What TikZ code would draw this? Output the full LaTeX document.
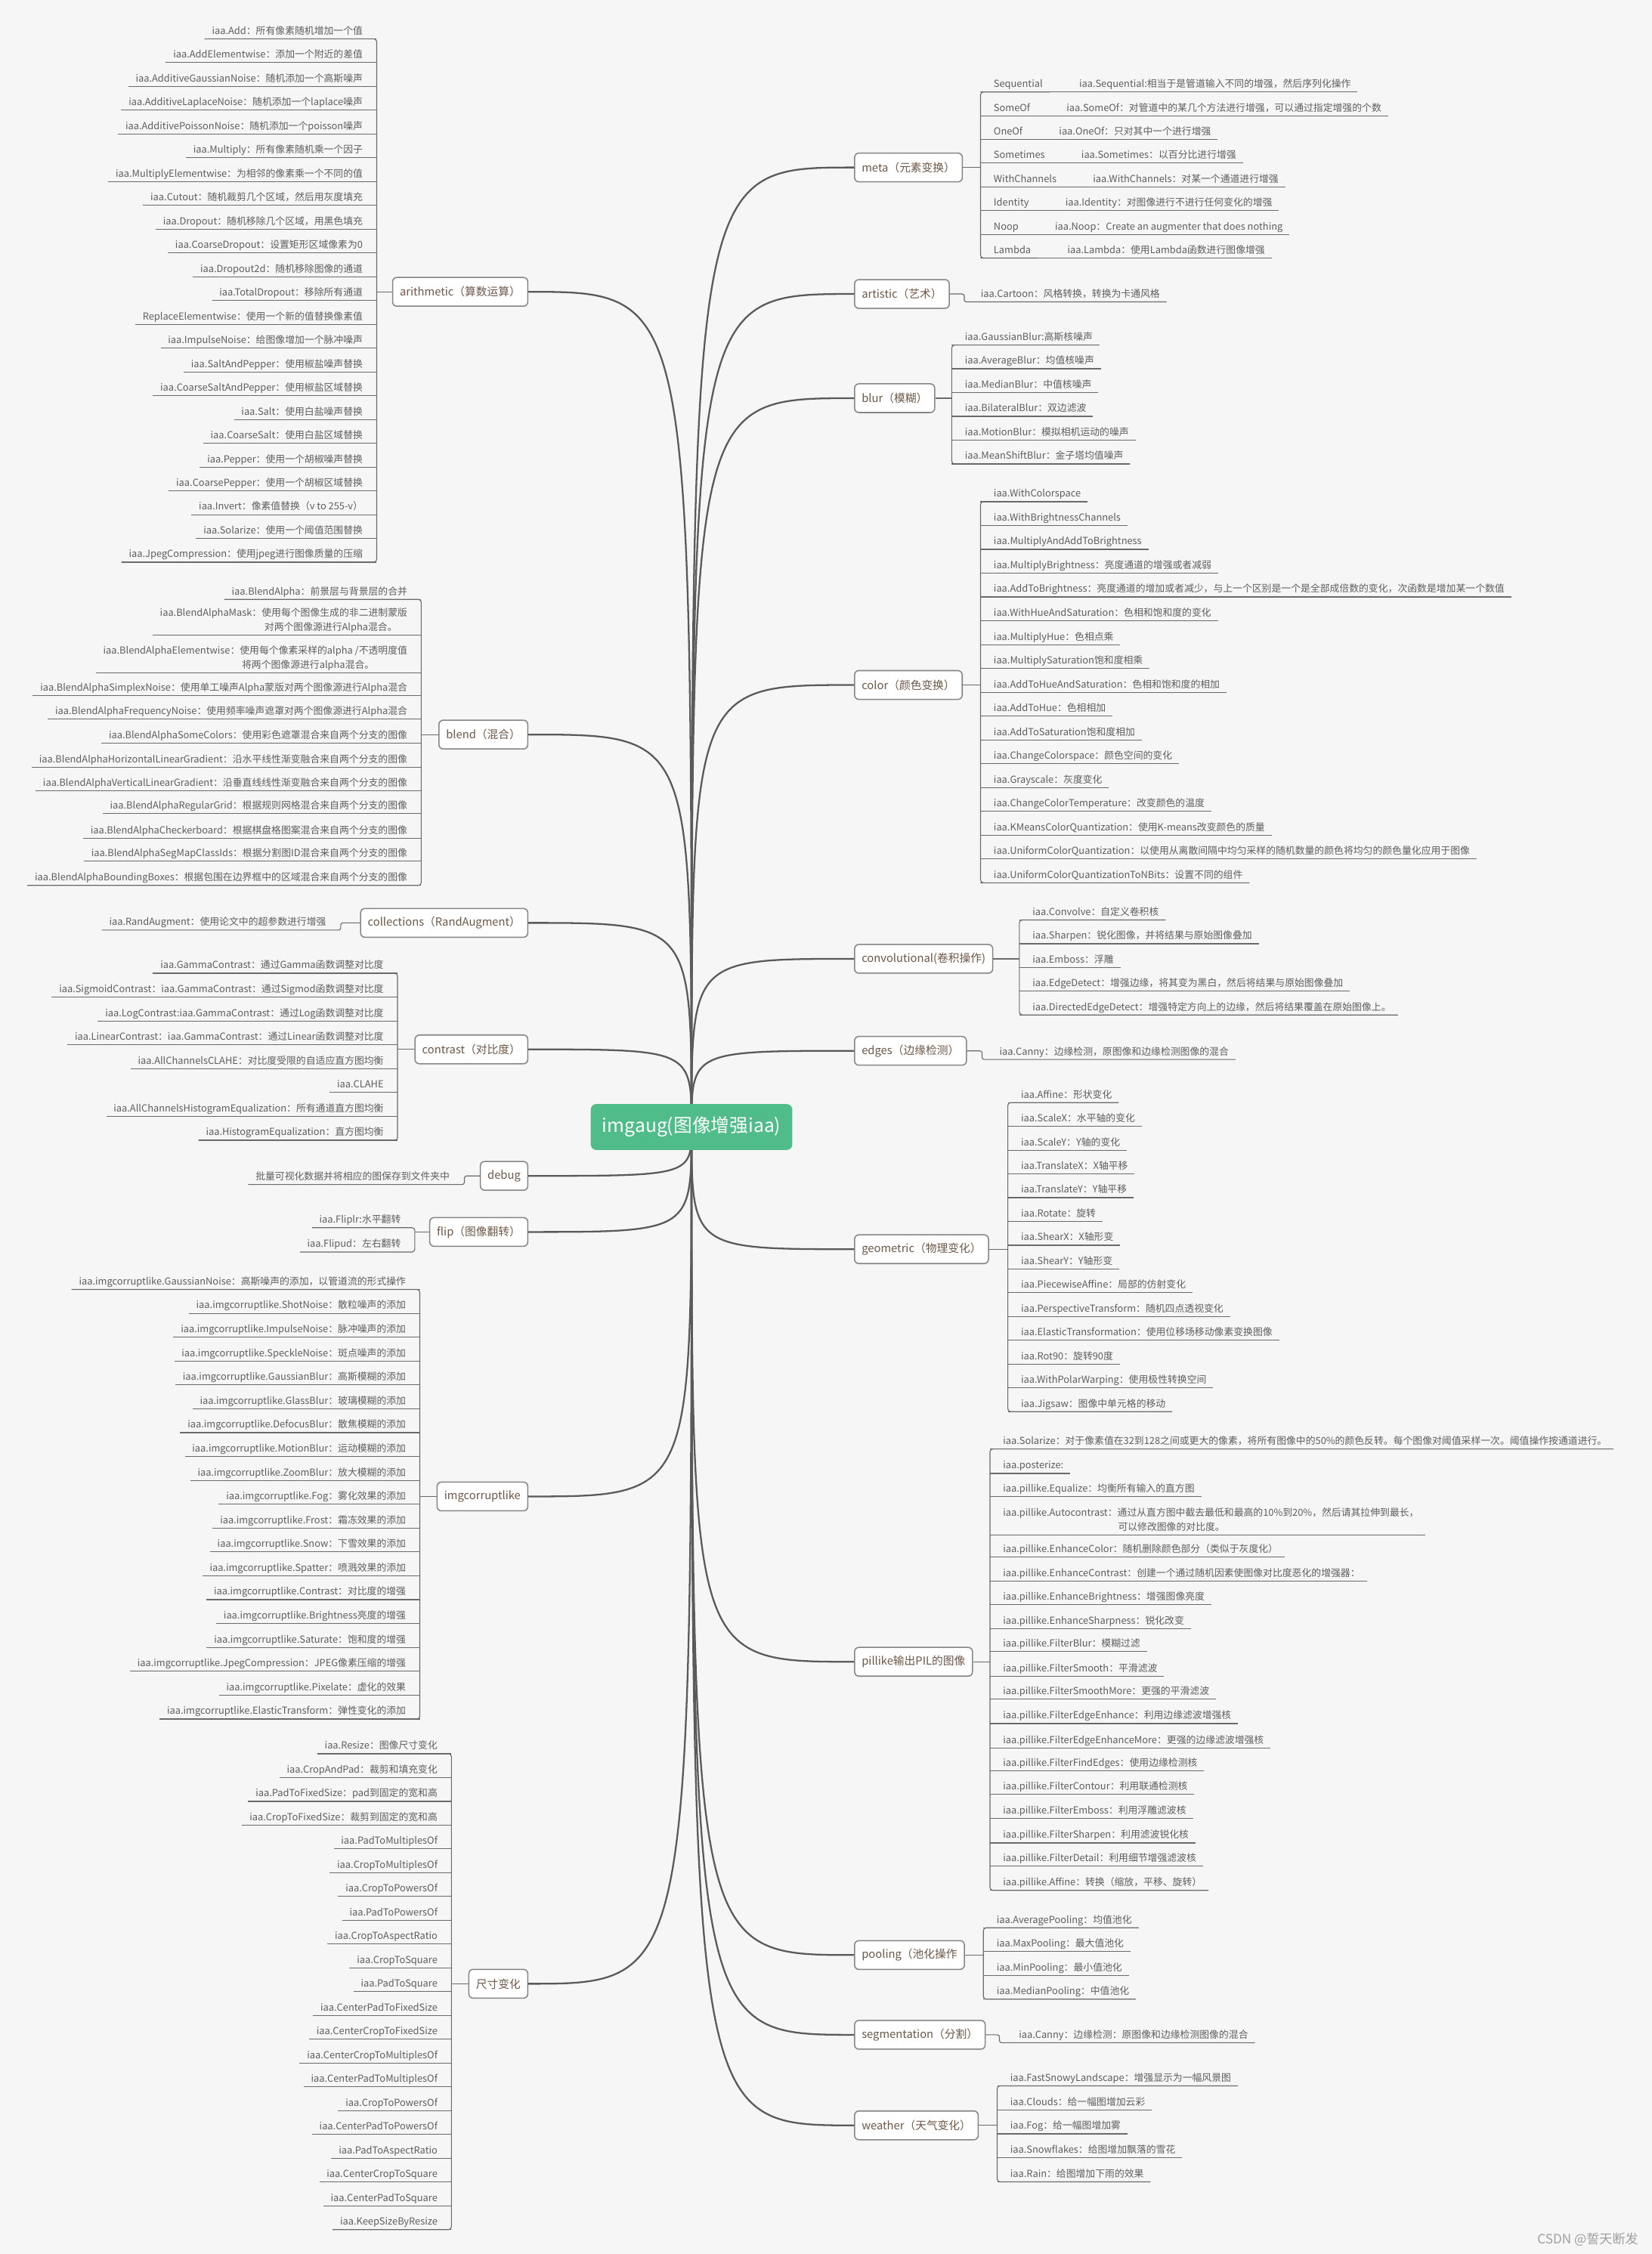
\documentclass[tikz,border=0pt]{standalone}
\usepackage{fontspec}
\setmainfont{Noto Sans CJK SC}
\usetikzlibrary{positioning}

\definecolor{paper}{HTML}{F6F6F6}
\definecolor{rootgreen}{HTML}{50BC8A}
\definecolor{twiggray}{HTML}{6A6A6A}
\definecolor{limbgray}{HTML}{5A5A5A}
\definecolor{leafgray}{HTML}{5E5E5E}
\definecolor{catbrown}{HTML}{6E5747}
\definecolor{boxgray}{HTML}{858585}

\tikzset{
  rootbox/.style={fill=rootgreen, rounded corners=4pt, text=white,
    font=\fontsize{13}{15}\selectfont, minimum height=32pt, inner xsep=8pt},
  catbox/.style={draw=boxgray, line width=0.8pt, fill=white, rounded corners=3pt,
    text=catbrown, font=\fontsize{7.75}{9}\selectfont, minimum height=20pt, inner xsep=5pt},
  leafL/.style={anchor=south east, text=leafgray, font=\fontsize{6.75}{10}\selectfont,
    text depth=1.4pt, inner xsep=5pt, inner ysep=1.6pt, align=right},
  leafR/.style={leafL, anchor=south west, align=left, inner xsep=4.5pt},
  twig/.style={draw=twiggray, line width=0.6pt},
  limb/.style={draw=limbgray, line width=1.2pt},
}

\begin{document}
\begin{tikzpicture}[x=1pt,y=-1pt]
\useasboundingbox (0,0) rectangle (1149,1568);
\fill[paper] (0,0) rectangle (1149,1568);

% arithmetic
\node[catbox, anchor=east] (arith) at (367.5,203) {arithmetic（算数运算）};
\coordinate (arb) at (262,0);
\foreach \t [count=\i] in {iaa.Add：所有像素随机增加一个值,
iaa.AddElementwise：添加一个附近的差值,
iaa.AdditiveGaussianNoise：随机添加一个高斯噪声,
iaa.AdditiveLaplaceNoise：随机添加一个laplace噪声,
iaa.AdditivePoissonNoise：随机添加一个poisson噪声,
iaa.Multiply：所有像素随机乘一个因子,
iaa.MultiplyElementwise：为相邻的像素乘一个不同的值,
iaa.Cutout：随机裁剪几个区域，然后用灰度填充,
iaa.Dropout：随机移除几个区域，用黑色填充,
iaa.CoarseDropout：设置矩形区域像素为0,
iaa.Dropout2d：随机移除图像的通道,
iaa.TotalDropout：移除所有通道,
ReplaceElementwise：使用一个新的值替换像素值,
iaa.ImpulseNoise：给图像增加一个脉冲噪声,
iaa.SaltAndPepper：使用椒盐噪声替换,
iaa.CoarseSaltAndPepper：使用椒盐区域替换,
iaa.Salt：使用白盐噪声替换,
iaa.CoarseSalt：使用白盐区域替换,
iaa.Pepper：使用一个胡椒噪声替换,
iaa.CoarsePepper：使用一个胡椒区域替换,
iaa.Invert：像素值替换（v to 255-v）,
iaa.Solarize：使用一个阈值范围替换,
iaa.JpegCompression：使用jpeg进行图像质量的压缩}{
  \pgfmathsetmacro{\y}{27+(\i-1)*16.55}
  \node[leafL] (ar-\i) at (257.5,\y) {\t};
  \draw[twig] (ar-\i.south west) -- (ar-\i.south -| arb);
}
\draw[twig, rounded corners=2pt] (ar-1.south west) -- (ar-1.south -| arb) -- (ar-23.south -| arb) -- (ar-23.south west);
\draw[twig] (arith.west) -- (arith.west -| arb);

% blend
\node[catbox, anchor=east] (blend) at (367.5,511) {blend（混合）};
\coordinate (blb) at (293,0);
\foreach \y/\t [count=\i] in {417/{iaa.BlendAlpha：前景层与背景层的合并},
442/{iaa.BlendAlphaMask：使用每个图像生成的非二进制蒙版\\对两个图像源进行Alpha混合。\hspace*{7pt}},
468/{iaa.BlendAlphaElementwise：使用每个像素采样的alpha /不透明度值\\将两个图像源进行alpha混合。\hspace*{23pt}},
484/{iaa.BlendAlphaSimplexNoise：使用单工噪声Alpha蒙版对两个图像源进行Alpha混合},
500/{iaa.BlendAlphaFrequencyNoise：使用频率噪声遮罩对两个图像源进行Alpha混合},
517/{iaa.BlendAlphaSomeColors：使用彩色遮罩混合来自两个分支的图像},
534/{iaa.BlendAlphaHorizontalLinearGradient：沿水平线性渐变融合来自两个分支的图像},
550/{iaa.BlendAlphaVerticalLinearGradient：沿垂直线线性渐变融合来自两个分支的图像},
566/{iaa.BlendAlphaRegularGrid：根据规则网格混合来自两个分支的图像},
583/{iaa.BlendAlphaCheckerboard：根据棋盘格图案混合来自两个分支的图像},
599/{iaa.BlendAlphaSegMapClassIds：根据分割图ID混合来自两个分支的图像},
616/{iaa.BlendAlphaBoundingBoxes：根据包围在边界框中的区域混合来自两个分支的图像}}{
  \node[leafL] (bl-\i) at (288.5,\y) {\t};
  \draw[twig] (bl-\i.south west) -- (bl-\i.south -| blb);
}
\draw[twig, rounded corners=2pt] (bl-1.south west) -- (bl-1.south -| blb) -- (bl-12.south -| blb) -- (bl-12.south west);
\draw[twig] (blend.west) -- (blend.west -| blb);

% collections
\node[catbox, anchor=east] (coll) at (367.5,642) {collections（RandAugment）};
\node[leafL] (co-1) at (232,647) {iaa.RandAugment：使用论文中的超参数进行增强};
\draw[twig, rounded corners=1.5pt] (co-1.south west) -- (co-1.south east) -- ++(5,0) |- (coll.west);

% contrast
\node[catbox, anchor=east] (contr) at (367.5,730) {contrast（对比度）};
\coordinate (ctb) at (276.5,0);
\foreach \t [count=\i] in {iaa.GammaContrast：通过Gamma函数调整对比度,
iaa.SigmoidContrast：iaa.GammaContrast：通过Sigmod函数调整对比度,
iaa.LogContrast:iaa.GammaContrast：通过Log函数调整对比度,
iaa.LinearContrast：iaa.GammaContrast：通过Linear函数调整对比度,
iaa.AllChannelsCLAHE：对比度受限的自适应直方图均衡,
iaa.CLAHE,
iaa.AllChannelsHistogramEqualization：所有通道直方图均衡,
iaa.HistogramEqualization：直方图均衡}{
  \pgfmathsetmacro{\y}{677+(\i-1)*16.6}
  \node[leafL] (ct-\i) at (272,\y) {\t};
  \draw[twig] (ct-\i.south west) -- (ct-\i.south -| ctb);
}
\draw[twig, rounded corners=2pt] (ct-1.south west) -- (ct-1.south -| ctb) -- (ct-8.south -| ctb) -- (ct-8.south west);
\draw[twig] (contr.west) -- (contr.west -| ctb);

% debug
\node[catbox, anchor=east] (debug) at (367.5,818) {debug};
\node[leafL] (db-1) at (318,824) {批量可视化数据并将相应的图保存到文件夹中};
\draw[twig, rounded corners=1.5pt] (db-1.south west) -- (db-1.south east) -- ++(5,0) |- (debug.west);

% flip
\node[catbox, anchor=east] (flip) at (367.5,857) {flip（图像翻转）};
\coordinate (flb) at (288.5,0);
\foreach \t [count=\i] in {iaa.Fliplr:水平翻转,
iaa.Flipud：左右翻转}{
  \pgfmathsetmacro{\y}{854+(\i-1)*17}
  \node[leafL] (fl-\i) at (284,\y) {\t};
}
\draw[twig, rounded corners=2pt] (fl-1.south west) -- (fl-1.south -| flb) -- (fl-2.south -| flb) -- (fl-2.south west);
\draw[twig] (flip.west) -- (flip.west -| flb);

% imgcorruptlike
\node[catbox, anchor=east] (corrupt) at (367.5,1041) {imgcorruptlike};
\coordinate (cob) at (292,0);
\foreach \t [count=\i] in {iaa.imgcorruptlike.GaussianNoise：高斯噪声的添加，以管道流的形式操作,
iaa.imgcorruptlike.ShotNoise：散粒噪声的添加,
iaa.imgcorruptlike.ImpulseNoise：脉冲噪声的添加,
iaa.imgcorruptlike.SpeckleNoise：斑点噪声的添加,
iaa.imgcorruptlike.GaussianBlur：高斯模糊的添加,
iaa.imgcorruptlike.GlassBlur：玻璃模糊的添加,
iaa.imgcorruptlike.DefocusBlur：散焦模糊的添加,
iaa.imgcorruptlike.MotionBlur：运动模糊的添加,
iaa.imgcorruptlike.ZoomBlur：放大模糊的添加,
iaa.imgcorruptlike.Fog：雾化效果的添加,
iaa.imgcorruptlike.Frost：霜冻效果的添加,
iaa.imgcorruptlike.Snow：下雪效果的添加,
iaa.imgcorruptlike.Spatter：喷溅效果的添加,
iaa.imgcorruptlike.Contrast：对比度的增强,
iaa.imgcorruptlike.Brightness亮度的增强,
iaa.imgcorruptlike.Saturate：饱和度的增强,
iaa.imgcorruptlike.JpegCompression：JPEG像素压缩的增强,
iaa.imgcorruptlike.Pixelate：虚化的效果,
iaa.imgcorruptlike.ElasticTransform：弹性变化的添加}{
  \pgfmathsetmacro{\y}{897+(\i-1)*16.6}
  \node[leafL] (cr-\i) at (287.5,\y) {\t};
  \draw[twig] (cr-\i.south west) -- (cr-\i.south -| cob);
}
\draw[twig, rounded corners=2pt] (cr-1.south west) -- (cr-1.south -| cob) -- (cr-19.south -| cob) -- (cr-19.south west);
\draw[twig] (corrupt.west) -- (corrupt.west -| cob);

% resize
\node[catbox, anchor=east] (resize) at (367.5,1380) {尺寸变化};
\coordinate (szb) at (314,0);
\foreach \t [count=\i] in {iaa.Resize：图像尺寸变化,
iaa.CropAndPad：裁剪和填充变化,
iaa.PadToFixedSize：pad到固定的宽和高,
iaa.CropToFixedSize：裁剪到固定的宽和高,
iaa.PadToMultiplesOf,
iaa.CropToMultiplesOf,
iaa.CropToPowersOf,
iaa.PadToPowersOf,
iaa.CropToAspectRatio,
iaa.CropToSquare,
iaa.PadToSquare,
iaa.CenterPadToFixedSize,
iaa.CenterCropToFixedSize,
iaa.CenterCropToMultiplesOf,
iaa.CenterPadToMultiplesOf,
iaa.CropToPowersOf,
iaa.CenterPadToPowersOf,
iaa.PadToAspectRatio,
iaa.CenterCropToSquare,
iaa.CenterPadToSquare,
iaa.KeepSizeByResize}{
  \pgfmathsetmacro{\y}{1220+(\i-1)*16.55}
  \node[leafL] (sz-\i) at (309.5,\y) {\t};
  \draw[twig] (sz-\i.south west) -- (sz-\i.south -| szb);
}
\draw[twig, rounded corners=2pt] (sz-1.south west) -- (sz-1.south -| szb) -- (sz-21.south -| szb) -- (sz-21.south west);
\draw[twig] (resize.west) -- (resize.west -| szb);

% meta
\node[catbox, anchor=west] (meta) at (594,116.5) {meta（元素变换）};
\coordinate (mtb) at (682,0);
\foreach \n/\d [count=\i] in {Sequential/{iaa.Sequential:相当于是管道输入不同的增强，然后序列化操作},
SomeOf/{iaa.SomeOf：对管道中的某几个方法进行增强，可以通过指定增强的个数},
OneOf/{iaa.OneOf：只对其中一个进行增强},
Sometimes/{iaa.Sometimes：以百分比进行增强},
WithChannels/{iaa.WithChannels：对某一个通道进行增强},
Identity/{iaa.Identity：对图像进行不进行任何变化的增强},
Noop/{iaa.Noop：Create an augmenter that does nothing},
Lambda/{iaa.Lambda：使用Lambda函数进行图像增强}}{
  \pgfmathsetmacro{\y}{64+(\i-1)*16.5}
  \node[leafR] (mn-\i) at (686.5,\y) {\n};
  \node[leafR, base right=16pt of mn-\i] (md-\i) {\d};
  \draw[twig] (mn-\i.south -| mtb) -- (md-\i.south east);
}
\draw[twig, rounded corners=2pt] (mn-1.south east) -- (mn-1.south -| mtb) -- (mn-8.south -| mtb) -- (mn-8.south east);
\draw[twig] (meta.east) -- (meta.east -| mtb);

% artistic
\node[catbox, anchor=west] (art) at (594,204.5) {artistic（艺术）};
\node[leafR] (at-1) at (677.5,210) {iaa.Cartoon：风格转换，转换为卡通风格};
\draw[twig, rounded corners=1.5pt] (art.east) -- ++(10,0) |- (at-1.south west) -- (at-1.south east);

% blur
\node[catbox, anchor=west] (blur) at (594,277) {blur（模糊）};
\coordinate (bub) at (662,0);
\foreach \t [count=\i] in {iaa.GaussianBlur:高斯核噪声,
iaa.AverageBlur：均值核噪声,
iaa.MedianBlur：中值核噪声,
iaa.BilateralBlur：双边滤波,
iaa.MotionBlur：模拟相机运动的噪声,
iaa.MeanShiftBlur：金子塔均值噪声}{
  \pgfmathsetmacro{\y}{240+(\i-1)*16.55}
  \node[leafR] (bu-\i) at (666.5,\y) {\t};
  \draw[twig] (bu-\i.south -| bub) -- (bu-\i.south east);
}
\draw[twig, rounded corners=2pt] (bu-1.south east) -- (bu-1.south -| bub) -- (bu-6.south -| bub) -- (bu-6.south east);
\draw[twig] (blur.east) -- (blur.east -| bub);

% color
\node[catbox, anchor=west] (color) at (594,476.5) {color（颜色变换）};
\coordinate (clb) at (682,0);
\foreach \t [count=\i] in {iaa.WithColorspace,
iaa.WithBrightnessChannels,
iaa.MultiplyAndAddToBrightness,
iaa.MultiplyBrightness：亮度通道的增强或者减弱,
iaa.AddToBrightness：亮度通道的增加或者减少，与上一个区别是一个是全部成倍数的变化，次函数是增加某一个数值,
iaa.WithHueAndSaturation：色相和饱和度的变化,
iaa.MultiplyHue：色相点乘,
iaa.MultiplySaturation饱和度相乘,
iaa.AddToHueAndSaturation：色相和饱和度的相加,
iaa.AddToHue：色相相加,
iaa.AddToSaturation饱和度相加,
iaa.ChangeColorspace：颜色空间的变化,
iaa.Grayscale：灰度变化,
iaa.ChangeColorTemperature：改变颜色的温度,
iaa.KMeansColorQuantization：使用K-means改变颜色的质量,
iaa.UniformColorQuantization：以使用从离散间隔中均匀采样的随机数量的颜色将均匀的颜色量化应用于图像,
iaa.UniformColorQuantizationToNBits：设置不同的组件}{
  \pgfmathsetmacro{\y}{349+(\i-1)*16.57}
  \node[leafR] (cl-\i) at (686.5,\y) {\t};
  \draw[twig] (cl-\i.south -| clb) -- (cl-\i.south east);
}
\draw[twig, rounded corners=2pt] (cl-1.south east) -- (cl-1.south -| clb) -- (cl-17.south -| clb) -- (cl-17.south east);
\draw[twig] (color.east) -- (color.east -| clb);

% convolutional
\node[catbox, anchor=west] (conv) at (594,667) {convolutional(卷积操作)};
\coordinate (cvb) at (709,0);
\foreach \t [count=\i] in {iaa.Convolve：自定义卷积核,
iaa.Sharpen：锐化图像，并将结果与原始图像叠加,
iaa.Emboss：浮雕,
iaa.EdgeDetect：增强边缘，将其变为黑白，然后将结果与原始图像叠加,
iaa.DirectedEdgeDetect：增强特定方向上的边缘，然后将结果覆盖在原始图像上。}{
  \pgfmathsetmacro{\y}{640+(\i-1)*16.5}
  \node[leafR] (cv-\i) at (713.5,\y) {\t};
  \draw[twig] (cv-\i.south -| cvb) -- (cv-\i.south east);
}
\draw[twig, rounded corners=2pt] (cv-1.south east) -- (cv-1.south -| cvb) -- (cv-5.south -| cvb) -- (cv-5.south east);
\draw[twig] (conv.east) -- (conv.east -| cvb);

% edges
\node[catbox, anchor=west] (edges) at (594,731) {edges（边缘检测）};
\node[leafR] (ed-1) at (690.5,737) {iaa.Canny：边缘检测，原图像和边缘检测图像的混合};
\draw[twig, rounded corners=1.5pt] (edges.east) -- ++(10.5,0) |- (ed-1.south west) -- (ed-1.south east);

% geometric
\node[catbox, anchor=west] (geo) at (594,869) {geometric（物理变化）};
\coordinate (geb) at (701,0);
\foreach \t [count=\i] in {iaa.Affine：形状变化,
iaa.ScaleX：水平轴的变化,
iaa.ScaleY：Y轴的变化,
iaa.TranslateX：X轴平移,
iaa.TranslateY：Y轴平移,
iaa.Rotate：旋转,
iaa.ShearX：X轴形变,
iaa.ShearY：Y轴形变,
iaa.PiecewiseAffine：局部的仿射变化,
iaa.PerspectiveTransform：随机四点透视变化,
iaa.ElasticTransformation：使用位移场移动像素变换图像,
iaa.Rot90：旋转90度,
iaa.WithPolarWarping：使用极性转换空间,
iaa.Jigsaw：图像中单元格的移动}{
  \pgfmathsetmacro{\y}{767+(\i-1)*16.54}
  \node[leafR] (ge-\i) at (705.5,\y) {\t};
  \draw[twig] (ge-\i.south -| geb) -- (ge-\i.south east);
}
\draw[twig, rounded corners=2pt] (ge-1.south east) -- (ge-1.south -| geb) -- (ge-14.south -| geb) -- (ge-14.south east);
\draw[twig] (geo.east) -- (geo.east -| geb);

% pillike
\node[catbox, anchor=west] (pil) at (594,1156) {pillike输出PIL的图像};
\coordinate (pib) at (688.6,0);
\foreach \y/\t [count=\i] in {1008/{iaa.Solarize：对于像素值在32到128之间或更大的像素，将所有图像中的50\%的颜色反转。每个图像对阈值采样一次。阈值操作按通道进行。},
1025/{iaa.posterize:},
1041/{iaa.pillike.Equalize：均衡所有输入的直方图},
1068/{iaa.pillike.Autocontrast：通过从直方图中截去最低和最高的10\%到20\%，然后请其拉伸到最长，\\\hspace*{80pt}可以修改图像的对比度。},
1083/{iaa.pillike.EnhanceColor：随机删除颜色部分（类似于灰度化）},
1100/{iaa.pillike.EnhanceContrast：创建一个通过随机因素使图像对比度恶化的增强器：},
1116/{iaa.pillike.EnhanceBrightness：增强图像亮度},
1133/{iaa.pillike.EnhanceSharpness：锐化改变},
1149/{iaa.pillike.FilterBlur：模糊过滤},
1166/{iaa.pillike.FilterSmooth：平滑滤波},
1182/{iaa.pillike.FilterSmoothMore：更强的平滑滤波},
1199/{iaa.pillike.FilterEdgeEnhance：利用边缘滤波增强核},
1216/{iaa.pillike.FilterEdgeEnhanceMore：更强的边缘滤波增强核},
1232/{iaa.pillike.FilterFindEdges：使用边缘检测核},
1248/{iaa.pillike.FilterContour：利用联通检测核},
1265/{iaa.pillike.FilterEmboss：利用浮雕滤波核},
1282/{iaa.pillike.FilterSharpen：利用滤波锐化核},
1298/{iaa.pillike.FilterDetail：利用细节增强滤波核},
1315/{iaa.pillike.Affine：转换（缩放，平移、旋转）}}{
  \node[leafR] (pl-\i) at (693,\y) {\t};
  \draw[twig] (pl-\i.south -| pib) -- (pl-\i.south east);
}
\draw[twig, rounded corners=2pt] (pl-1.south east) -- (pl-1.south -| pib) -- (pl-19.south -| pib) -- (pl-19.south east);
\draw[twig] (pil.east) -- (pil.east -| pib);

% pooling
\node[catbox, anchor=west] (pool) at (594,1360) {pooling（池化操作};
\coordinate (pob) at (684,0);
\foreach \t [count=\i] in {iaa.AveragePooling：均值池化,
iaa.MaxPooling：最大值池化,
iaa.MinPooling：最小值池化,
iaa.MedianPooling：中值池化}{
  \pgfmathsetmacro{\y}{1341+(\i-1)*16.6}
  \node[leafR] (po-\i) at (688.5,\y) {\t};
  \draw[twig] (po-\i.south -| pob) -- (po-\i.south east);
}
\draw[twig, rounded corners=2pt] (po-1.south east) -- (po-1.south -| pob) -- (po-4.south -| pob) -- (po-4.south east);
\draw[twig] (pool.east) -- (pool.east -| pob);

% segmentation
\node[catbox, anchor=west] (seg) at (594,1415.5) {segmentation（分割）};
\node[leafR] (sg-1) at (704,1421) {iaa.Canny：边缘检测：原图像和边缘检测图像的混合};
\draw[twig, rounded corners=1.5pt] (seg.east) -- ++(9.5,0) |- (sg-1.south west) -- (sg-1.south east);

% weather
\node[catbox, anchor=west] (weather) at (594,1478.5) {weather（天气变化）};
\coordinate (web) at (693.6,0);
\foreach \t [count=\i] in {iaa.FastSnowyLandscape：增强显示为一幅风景图,
iaa.Clouds：给一幅图增加云彩,
iaa.Fog：给一幅图增加雾,
iaa.Snowflakes：给图增加飘落的雪花,
iaa.Rain：给图增加下雨的效果}{
  \pgfmathsetmacro{\y}{1451+(\i-1)*16.7}
  \node[leafR] (we-\i) at (698,\y) {\t};
  \draw[twig] (we-\i.south -| web) -- (we-\i.south east);
}
\draw[twig, rounded corners=2pt] (we-1.south east) -- (we-1.south -| web) -- (we-5.south -| web) -- (we-5.south east);
\draw[twig] (weather.east) -- (weather.east -| web);

% main branches
\coordinate (hub) at (481,784);
\foreach \c in {arith,blend,coll,contr,debug,flip,corrupt,resize}
  \draw[limb] (hub) .. controls (hub |- \c.east) .. (\c.east);
\foreach \c in {meta,art,blur,color,conv,edges,geo,pil,pool,seg,weather}
  \draw[limb] (hub) .. controls (hub |- \c.west) .. (\c.west);

% root
\node[rootbox] (root) at (hub) {imgaug(图像增强iaa)};

% watermark
\node[anchor=east, text=gray!75, font=\fontsize{9}{10}\selectfont] (mark) at (1143,1558) {CSDN @誓天断发};

\end{tikzpicture}
\end{document}
